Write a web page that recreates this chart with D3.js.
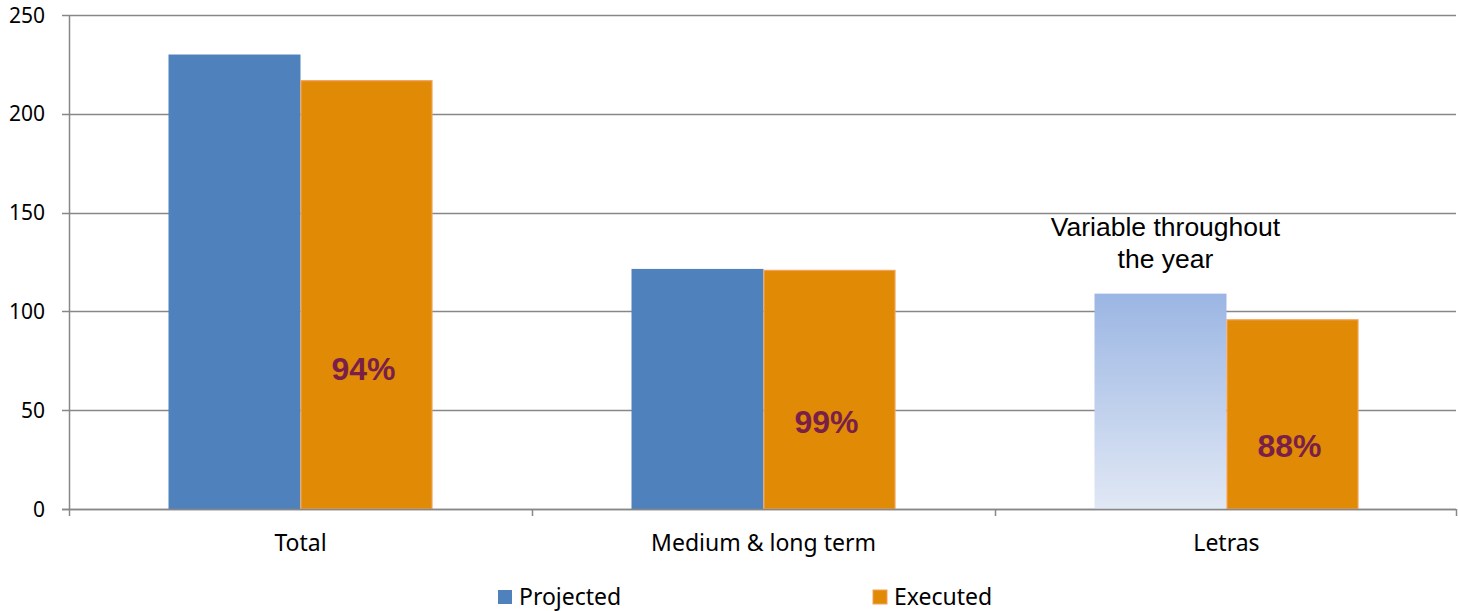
<!DOCTYPE html>
<html>
<head>
<meta charset="utf-8">
<script src="https://cdn.jsdelivr.net/npm/d3@7"></script>
<style>
  body { margin: 0; background: #fff; }
  svg { display: block; }
</style>
</head>
<body>
<div id="chart"></div>
<script>
// bars: projected vs executed debt issuance
const categories = ["Total", "Medium & long term", "Letras"];
const projected = [230, 121.5, 109];
const executed = [217, 121, 96];
const pctLabels = ["94%", "99%", "88%"];
const pctLabelAt = [71, 44, 32];
const yTicks = [0, 50, 100, 150, 200, 250];
const seriesNames = ["Projected", "Executed"];

var width = 1458;
var height = 611;
var margin = {top: 15, right: 0, bottom: 102, left: 69};

var svg = d3.select("#chart").append("svg")
    .attr("width", width)
    .attr("height", height);

var defs = svg.append("defs");
var grad = defs.append("linearGradient")
    .attr("id", "fade")
    .attr("x1", 0).attr("y1", 0).attr("x2", 0).attr("y2", 1);
grad.append("stop").attr("offset", "0%").attr("stop-color", "#9bb6e3");
grad.append("stop").attr("offset", "100%").attr("stop-color", "#e1e8f5");

var x = d3.scaleBand()
    .domain(categories)
    .range([margin.left, width - margin.right])
    .paddingInner(0)
    .paddingOuter(0);

var y = d3.scaleLinear()
    .domain([0, 250])
    .range([height - margin.bottom, margin.top]);

var barW = 132;

// gridlines
svg.append("g")
  .selectAll("line")
  .data(yTicks)
  .enter().append("line")
    .attr("x1", margin.left - 7)
    .attr("x2", width - 2)
    .attr("y1", function(d) { return Math.round(y(d)) + 0.5; })
    .attr("y2", function(d) { return Math.round(y(d)) + 0.5; })
    .attr("stroke", "#878787")
    .attr("stroke-width", 1.5);

// y labels
svg.append("g")
  .selectAll("text")
  .data(yTicks)
  .enter().append("text")
    .attr("x", 45)
    .attr("y", function(d) { return y(d); })
    .attr("dy", "0.36em")
    .attr("text-anchor", "end")
    .attr("font-family", "'Noto Sans', sans-serif")
    .attr("font-size", "21px")
    .attr("fill", "#000")
    .text(function(d) { return d; });

// y axis line
svg.append("line")
  .attr("x1", margin.left + 0.5).attr("x2", margin.left + 0.5)
  .attr("y1", y(250)).attr("y2", y(0) + 7)
  .attr("stroke", "#878787").attr("stroke-width", 1.5);

// x ticks
var xEdges = categories.map(function(c) { return x(c); }).concat([width - 2]);
svg.append("g")
  .selectAll("line")
  .data(xEdges.slice(1))
  .enter().append("line")
    .attr("x1", function(d) { return Math.round(d) + 0.5; })
    .attr("x2", function(d) { return Math.round(d) + 0.5; })
    .attr("y1", y(0))
    .attr("y2", y(0) + 7)
    .attr("stroke", "#878787")
    .attr("stroke-width", 1.5);

var groups = svg.append("g")
  .selectAll("g")
  .data(categories)
  .enter().append("g");

// projected bars
groups.append("rect")
  .attr("x", function(d) { return x(d) + x.bandwidth() / 2 - barW; })
  .attr("y", function(d, i) { return y(projected[i]); })
  .attr("width", barW)
  .attr("height", function(d, i) { return y(0) - y(projected[i]); })
  .attr("fill", function(d, i) { return i == 2 ? "url(#fade)" : "#4f81bd"; });

// executed bars
groups.append("rect")
  .attr("x", function(d) { return x(d) + x.bandwidth() / 2 + 0.5; })
  .attr("y", function(d, i) { return y(executed[i]) + 0.5; })
  .attr("width", barW - 1)
  .attr("height", function(d, i) { return y(0) - y(executed[i]) - 0.5; })
  .attr("fill", "#e08a06")
  .attr("stroke", "#f2a25a")
  .attr("stroke-width", 1.2);

// percentage labels
groups.append("text")
  .attr("x", function(d) { return x(d) + x.bandwidth() / 2 + barW / 2 - 3; })
  .attr("y", function(d, i) { return y(pctLabelAt[i]); })
  .attr("dy", "0.35em")
  .attr("text-anchor", "middle")
  .attr("font-family", "'Liberation Sans', Arial, sans-serif")
  .attr("font-weight", "bold")
  .attr("font-size", "32px")
  .attr("fill", "#7a1f48")
  .text(function(d, i) { return pctLabels[i]; });

// x axis line on top of bars
svg.append("line")
  .attr("x1", margin.left - 7).attr("x2", width - 2)
  .attr("y1", Math.round(y(0)) + 0.5).attr("y2", Math.round(y(0)) + 0.5)
  .attr("stroke", "#878787").attr("stroke-width", 1.5);

// category labels
svg.append("g")
  .selectAll("text")
  .data(categories)
  .enter().append("text")
    .attr("x", function(d) { return x(d) + x.bandwidth() / 2; })
    .attr("y", 551)
    .attr("text-anchor", "middle")
    .attr("font-family", "'Noto Sans', sans-serif")
    .attr("font-size", "23px")
    .attr("fill", "#000")
    .text(function(d) { return d; });

// annotation
var noteX = x("Letras") + x.bandwidth() / 2 - barW / 2 + 5;
var note = svg.append("text")
  .attr("text-anchor", "middle")
  .attr("font-family", "'Liberation Sans', Arial, sans-serif")
  .attr("font-size", "26.5px")
  .attr("fill", "#000");
note.append("tspan").attr("x", noteX).attr("y", 236).text("Variable throughout");
note.append("tspan").attr("x", noteX).attr("y", 268).text("the year");

// legend
var legend = svg.append("g")
  .selectAll("g")
  .data(seriesNames)
  .enter().append("g")
    .attr("transform", function(d, i) { return "translate(" + (498 + i * 375) + ",590)"; });

legend.append("rect")
  .attr("width", 14)
  .attr("height", 14)
  .attr("fill", function(d, i) { return i == 0 ? "#4f81bd" : "#e08a06"; })
  .attr("stroke", function(d, i) { return i == 0 ? "none" : "#f2a25a"; })
  .attr("stroke-width", 1);

legend.append("text")
  .attr("x", 21)
  .attr("y", 15)
  .attr("font-family", "'Noto Sans', sans-serif")
  .attr("font-size", "23px")
  .attr("fill", "#000")
  .text(function(d) { return d; });
</script>
</body>
</html>
